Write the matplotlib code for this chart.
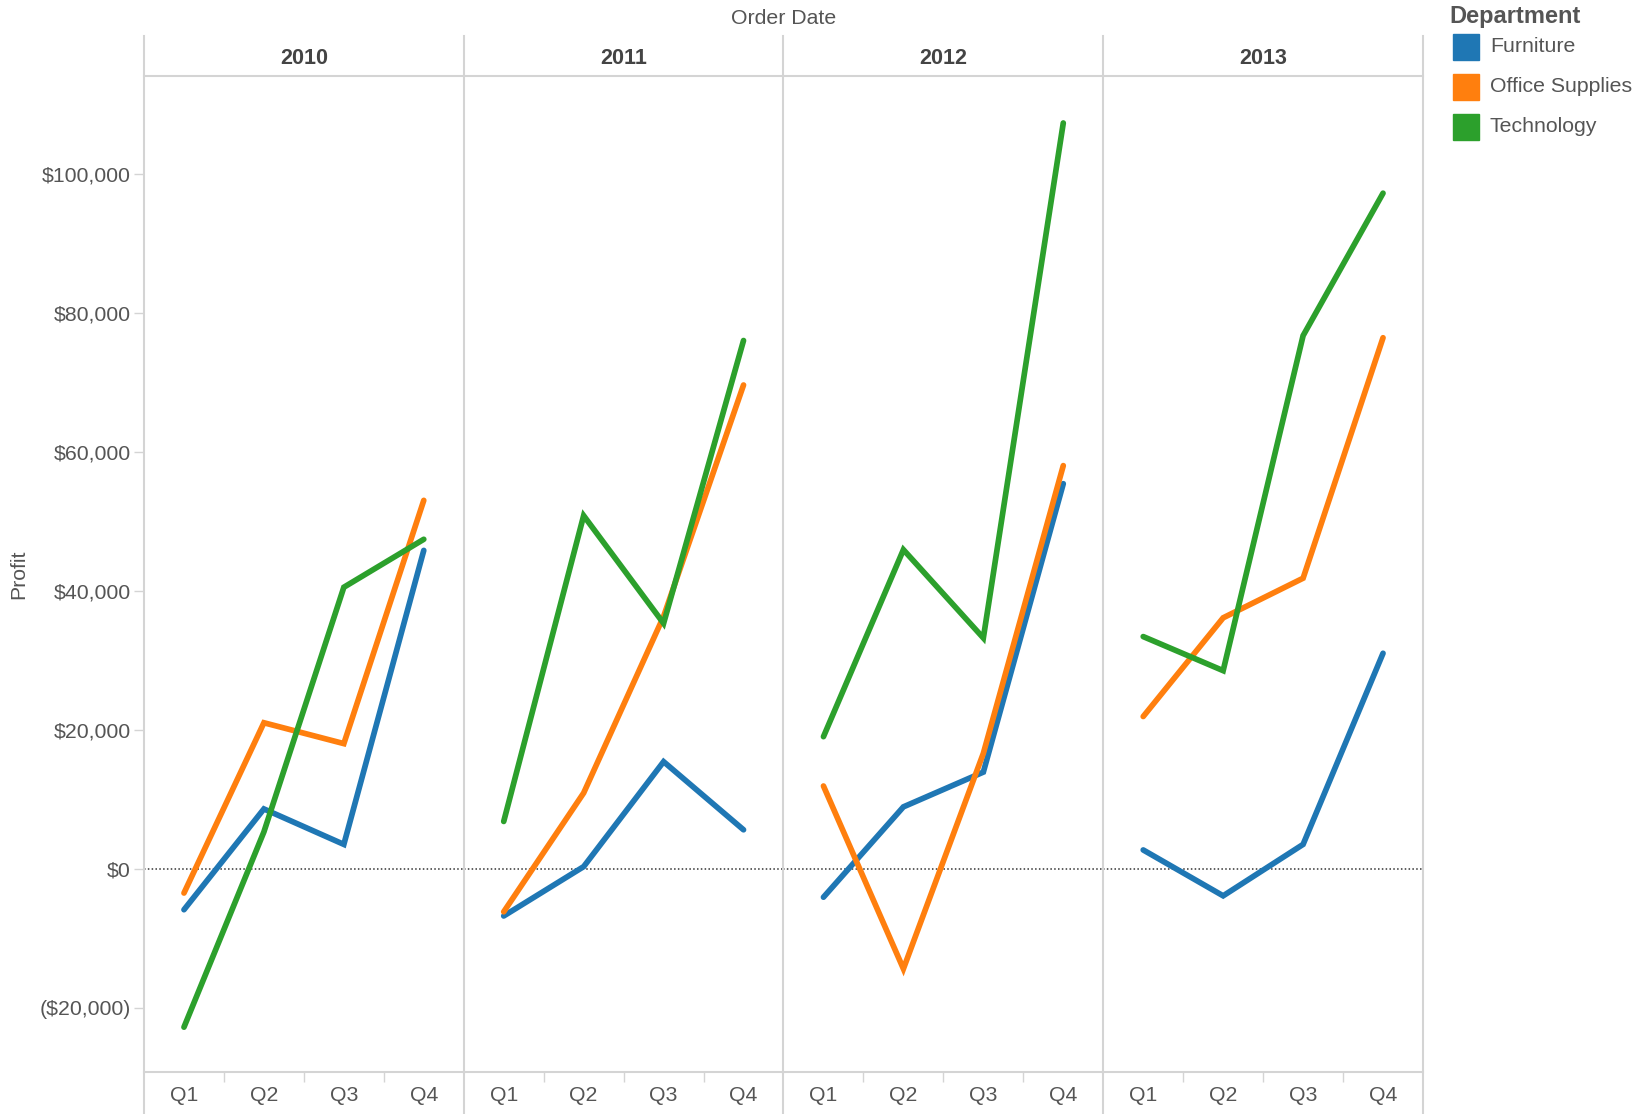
import matplotlib.pyplot as plt
from matplotlib.lines import Line2D
from matplotlib.patches import Rectangle
from matplotlib.ticker import FuncFormatter

plt.rcParams['font.family'] = ['Liberation Sans', 'DejaVu Sans']

years = ["2010", "2011", "2012", "2013"]
quarters = ["Q1", "Q2", "Q3", "Q4"]
departments = ["Furniture", "Office Supplies", "Technology"]
colors = ["#1f77b4", "#ff7f0e", "#2ca02c"]

# profit per quarter, one list per year
furniture = [[-5900, 8600, 3500, 45800],
             [-6800, 300, 15400, 5600],
             [-4100, 8900, 13900, 55400],
             [2700, -3900, 3500, 31000]]
office_supplies = [[-3500, 21000, 18000, 53000],
                   [-6200, 10900, 36300, 69600],
                   [11900, -14400, 16600, 58000],
                   [21900, 36100, 41800, 76400]]
technology = [[-22800, 5300, 40500, 47400],
              [6800, 50800, 35300, 76000],
              [19000, 45900, 33200, 107300],
              [33400, 28500, 76700, 97200]]
series = [furniture, office_supplies, technology]

W, H = 1640, 1114
fig = plt.figure(figsize=(W / 100, H / 100), dpi=100)

grid = "#d4d4d4"
txt = "#555555"
fs = 15.3
left, right = 144, 1423
top, bottom = 76, 1072
pw = (right - left) / 4

def money(v, pos):
    if v < 0:
        return "(${:,.0f})".format(-v)
    return "${:,.0f}".format(v)

axes = []
for i, yr in enumerate(years):
    ax = fig.add_axes([(left + i * pw) / W, 1 - bottom / H, pw / W, (bottom - top) / H])
    axes.append(ax)
    ax.set_xlim(0.5, 4.5)
    ax.set_ylim(-29250, 114060)
    for s in ["top", "right", "left"]:
        ax.spines[s].set_visible(False)
    ax.spines["bottom"].set_color(grid)
    ax.spines["bottom"].set_linewidth(1.5)
    ax.axhline(0, color="#333333", lw=1.1, ls=(0, (1, 1.5)), zorder=1)
    x = range(1, 5)
    for d, vals in enumerate(series):
        ax.plot(x, vals[i], color=colors[d], lw=4.1, solid_capstyle="round",
                solid_joinstyle="miter", zorder=3)
    ax.set_xticks(list(x))
    ax.set_xticklabels(quarters)
    ax.set_xticks([1.5, 2.5, 3.5], minor=True)
    ax.tick_params(axis="x", which="major", length=0, pad=10, labelsize=fs, labelcolor=txt)
    ax.tick_params(axis="x", which="minor", length=7, width=1, color=grid)
    ax.set_yticks(range(-20000, 100001, 20000))
    if i == 0:
        ax.yaxis.set_major_formatter(FuncFormatter(money))
        ax.tick_params(axis="y", length=7, width=1, color=grid, pad=2.5,
                       labelsize=fs, labelcolor=txt)
    else:
        ax.tick_params(axis="y", length=0, labelleft=False)
    fig.text((left + (i + 0.5) * pw) / W, 1 - 58 / H, yr, ha="center", va="center",
             fontsize=15.5, fontweight="bold", color="#444444")

# panel borders and header line
for i in range(5):
    xf = (left + i * pw) / W
    fig.add_artist(Line2D([xf, xf], [0, 1 - 36 / H], color=grid, lw=1.5,
                          transform=fig.transFigure))
fig.add_artist(Line2D([left / W, right / W], [1 - top / H, 1 - top / H], color=grid, lw=1.5,
                      transform=fig.transFigure))

fig.text((left + right) / 2 / W, 1 - 19 / H, "Order Date", ha="center", va="center",
         fontsize=fs, color=txt)
fig.text(19 / W, 1 - 574 / H, "Profit", ha="center", va="center", rotation=90,
         fontsize=fs, color=txt)

# legend
fig.text(1449 / W, 1 - 17 / H, "Department", ha="left", va="center",
         fontsize=17, fontweight="bold", color=txt)
for d, name in enumerate(departments):
    yc = 47 + d * 40
    fig.add_artist(Rectangle((1453 / W, 1 - (yc + 13) / H), 26 / W, 26 / H,
                             color=colors[d], transform=fig.transFigure))
    fig.text(1490 / W, 1 - yc / H, name, ha="left", va="center", fontsize=fs, color=txt)

fig.savefig("out.png", dpi=100, facecolor="white")
